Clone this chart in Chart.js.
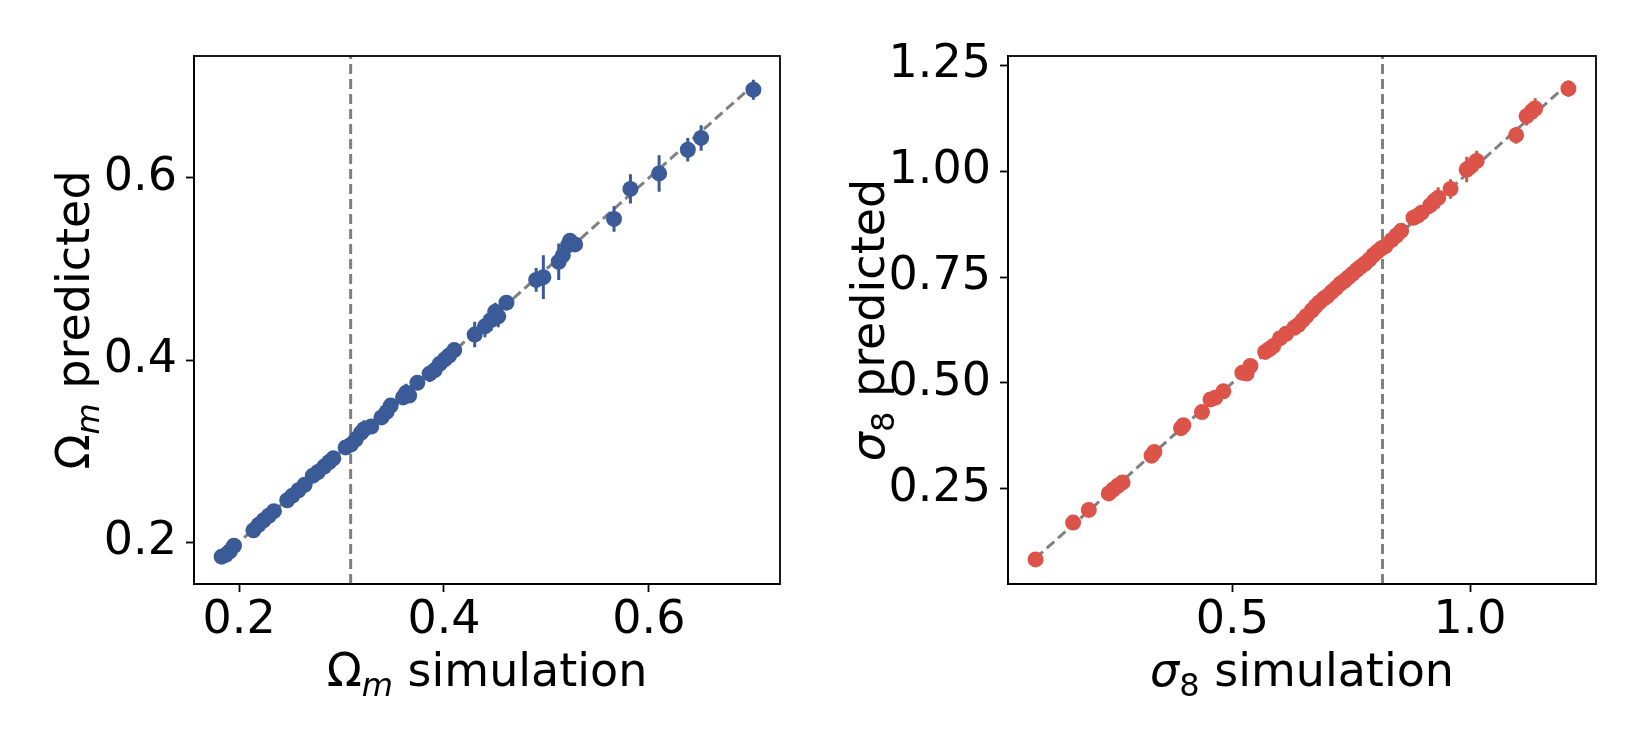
<!DOCTYPE html>
<html>
<head>
<meta charset="utf-8">
<script src="https://cdn.jsdelivr.net/npm/chart.js@4.4.1/dist/chart.umd.min.js"></script>
<style>
  body { margin: 0; background: #fff; }
  #wrap { position: relative; width: 1650px; height: 750px; background: #fff; }
  canvas { position: absolute; top: 0; }
</style>
</head>
<body>
<div id="wrap">
  <canvas id="omChart" width="825" height="750" style="left:0"></canvas>
  <canvas id="s8Chart" width="825" height="750" style="left:825px"></canvas>
</div>
<script>
// Omega_m panel: simulation value, predicted value, 1-sigma error
let omTrue = [0.183, 0.187, 0.191, 0.195, 0.214, 0.219, 0.224, 0.229, 0.234, 0.247,
              0.252, 0.258, 0.264, 0.272, 0.277, 0.283, 0.288, 0.292, 0.304, 0.309,
              0.314, 0.319, 0.322, 0.329, 0.339, 0.344, 0.348, 0.360, 0.363, 0.366,
              0.374, 0.386, 0.391, 0.396, 0.401, 0.405, 0.410, 0.430, 0.440, 0.446,
              0.450, 0.453, 0.461, 0.490, 0.497, 0.512, 0.516, 0.521, 0.523, 0.528,
              0.566, 0.582, 0.610, 0.638, 0.651, 0.702];
let omPred = [0.184, 0.186, 0.190, 0.196, 0.213, 0.219, 0.224, 0.229, 0.234, 0.246,
              0.251, 0.257, 0.263, 0.273, 0.277, 0.283, 0.288, 0.292, 0.304, 0.307,
              0.313, 0.320, 0.324, 0.327, 0.337, 0.343, 0.350, 0.359, 0.364, 0.361,
              0.375, 0.385, 0.389, 0.396, 0.401, 0.405, 0.411, 0.428, 0.437, 0.444,
              0.453, 0.448, 0.463, 0.488, 0.491, 0.508, 0.515, 0.526, 0.531, 0.527,
              0.555, 0.588, 0.605, 0.631, 0.644, 0.697];
let omErr  = [0.004, 0.004, 0.004, 0.005, 0.004, 0.004, 0.005, 0.004, 0.005, 0.005,
              0.004, 0.005, 0.005, 0.005, 0.004, 0.005, 0.005, 0.005, 0.005, 0.005,
              0.006, 0.008, 0.010, 0.006, 0.006, 0.007, 0.007, 0.008, 0.010, 0.008,
              0.008, 0.009, 0.008, 0.008, 0.009, 0.007, 0.007, 0.014, 0.012, 0.012,
              0.010, 0.012, 0.008, 0.013, 0.024, 0.020, 0.012, 0.010, 0.008, 0.008,
              0.014, 0.016, 0.020, 0.013, 0.014, 0.011];
let omFiducial = 0.3089;
let omTicks = [0.2, 0.4, 0.6];
let omTickLabels = ['0.2', '0.4', '0.6'];

// sigma_8 panel
let s8True = [0.086, 0.165, 0.198, 0.240, 0.249, 0.259, 0.269, 0.330, 0.336, 0.392,
              0.397, 0.436, 0.454, 0.464, 0.481, 0.521, 0.530, 0.538, 0.569, 0.578,
              0.586, 0.600, 0.613, 0.630, 0.639, 0.648, 0.656, 0.667, 0.675, 0.683,
              0.692, 0.700, 0.709, 0.718, 0.727, 0.736, 0.744, 0.753, 0.762, 0.771,
              0.779, 0.788, 0.797, 0.805, 0.814, 0.822, 0.835, 0.845, 0.855, 0.881,
              0.890, 0.898, 0.916, 0.925, 0.933, 0.959, 0.993, 1.000, 1.014, 1.097,
              1.119, 1.130, 1.137, 1.207];
let s8Pred = [0.083, 0.170, 0.200, 0.239, 0.248, 0.257, 0.265, 0.328, 0.337, 0.393,
              0.400, 0.431, 0.461, 0.465, 0.480, 0.524, 0.522, 0.540, 0.573, 0.580,
              0.587, 0.605, 0.616, 0.630, 0.637, 0.648, 0.658, 0.671, 0.681, 0.690,
              0.699, 0.705, 0.715, 0.724, 0.734, 0.741, 0.749, 0.758, 0.767, 0.775,
              0.782, 0.791, 0.802, 0.810, 0.818, 0.823, 0.837, 0.848, 0.859, 0.890,
              0.895, 0.902, 0.919, 0.930, 0.937, 0.958, 1.004, 1.010, 1.024, 1.085,
              1.130, 1.142, 1.148, 1.195];
let s8Err  = [0.010, 0.010, 0.010, 0.010, 0.010, 0.010, 0.010, 0.012, 0.012, 0.012,
              0.012, 0.012, 0.012, 0.012, 0.012, 0.014, 0.015, 0.014, 0.012, 0.012,
              0.012, 0.014, 0.012, 0.014, 0.016, 0.012, 0.014, 0.012, 0.014, 0.012,
              0.014, 0.012, 0.012, 0.014, 0.012, 0.012, 0.014, 0.012, 0.014, 0.012,
              0.014, 0.012, 0.016, 0.014, 0.014, 0.014, 0.014, 0.014, 0.016, 0.016,
              0.016, 0.016, 0.020, 0.020, 0.025, 0.023, 0.030, 0.022, 0.024, 0.020,
              0.022, 0.022, 0.024, 0.019];
let s8Fiducial = 0.8159;
let s8XTicks = [0.5, 1.0];
let s8XTickLabels = ['0.5', '1.0'];
let s8YTicks = [0.25, 0.50, 0.75, 1.00, 1.25];
let s8YTickLabels = ['0.25', '0.50', '0.75', '1.00', '1.25'];

const FONT = 'DejaVu Sans';
const FS = 46;
Chart.defaults.font.family = FONT;

// draws a label made of pieces (some italic / subscript) centred on (x, y)
function drawRich(ctx, parts, x, y, rotate) {
  ctx.save();
  ctx.translate(x, y);
  if (rotate) ctx.rotate(-Math.PI / 2);
  ctx.fillStyle = '#000';
  ctx.textBaseline = 'alphabetic';
  ctx.textAlign = 'left';
  let fontOf = p => (p.it ? 'italic ' : '') + (p.sub ? Math.round(FS * 0.7) : FS) + 'px "' + FONT + '"';
  let total = 0;
  parts.forEach(p => { ctx.font = fontOf(p); total += ctx.measureText(p.t).width; });
  let cx = -total / 2;
  parts.forEach(p => {
    ctx.font = fontOf(p);
    ctx.fillText(p.t, cx, p.sub ? 10 : 0);
    cx += ctx.measureText(p.t).width;
  });
  ctx.restore();
}

const framePlugin = {
  id: 'frame',
  afterDraw(chart, args, opts) {
    let a = chart.chartArea, ctx = chart.ctx;
    ctx.save();
    ctx.strokeStyle = '#000';
    ctx.lineWidth = 1.8;
    ctx.strokeRect(a.left, a.top, a.right - a.left, a.bottom - a.top);
    ctx.restore();
    let midX = (a.left + a.right) / 2, midY = (a.top + a.bottom) / 2;
    drawRich(ctx, opts.xTitle, midX, opts.xTitleY, false);
    drawRich(ctx, opts.yTitle, opts.yTitleX, midY, true);
  }
};

function errorSegments(xs, ys, es) {
  let out = [];
  xs.forEach((x, i) => {
    out.push({x: x, y: ys[i] - es[i]});
    out.push({x: x, y: ys[i] + es[i]});
    out.push({x: x, y: null});
  });
  return out;
}

function axis(min, max, ticks, labels, isY, fitSize) {
  return {
    type: 'linear',
    min: min,
    max: max,
    afterBuildTicks: s => { s.ticks = ticks.map(v => ({value: v})); },
    afterFit: s => { if (isY) s.width = fitSize; else s.height = fitSize; },
    grid: { drawOnChartArea: false, drawTicks: true, tickLength: 8, tickWidth: 1.8, tickColor: '#000' },
    border: { display: true, color: '#000', width: 1.8 },
    ticks: {
      color: '#000',
      font: { family: FONT, size: FS },
      padding: isY ? 9 : 1,
      autoSkip: false,
      maxRotation: 0,
      callback: (v, i) => labels[i]
    }
  };
}

function makePanel(id, xs, ys, es, fid, color, xr, yr, xTicks, xLabels, yTicks, yLabels, leftW, padRight, titles) {
  let lo = Math.min(...xs), hi = Math.max(...xs);
  new Chart(document.getElementById(id), {
    type: 'scatter',
    data: {
      datasets: [
        { data: xs.map((x, i) => ({x: x, y: ys[i]})), pointRadius: 8, pointHoverRadius: 8,
          backgroundColor: color, borderWidth: 0, order: 0 },
        { data: errorSegments(xs, ys, es), showLine: true, spanGaps: false, pointRadius: 0,
          borderColor: color, borderWidth: 3, order: 1 },
        { data: [{x: lo, y: lo}, {x: hi, y: hi}], showLine: true, pointRadius: 0,
          borderColor: '#808080', borderWidth: 3, borderDash: [10, 5], order: 2 },
        { data: [{x: fid, y: yr[0]}, {x: fid, y: yr[1]}], showLine: true, pointRadius: 0,
          borderColor: '#808080', borderWidth: 3, borderDash: [10, 5], order: 3 }
      ]
    },
    options: {
      responsive: false,
      animation: false,
      layout: { padding: { left: 0, top: 56, right: padRight, bottom: 0 } },
      plugins: { legend: { display: false }, tooltip: { enabled: false }, frame: titles },
      scales: {
        x: axis(xr[0], xr[1], xTicks, xLabels, false, 166),
        y: axis(yr[0], yr[1], yTicks, yLabels, true, leftW)
      }
    },
    plugins: [framePlugin]
  });
}

makePanel('omChart', omTrue, omPred, omErr, omFiducial, '#3a5a98',
  [0.156, 0.728], [0.154, 0.734], omTicks, omTickLabels, omTicks, omTickLabels, 194, 45,
  { xTitle: [{t: 'Ω'}, {t: 'm', it: true, sub: true}, {t: ' simulation'}], xTitleY: 686,
    yTitle: [{t: 'Ω'}, {t: 'm', it: true, sub: true}, {t: ' predicted'}], yTitleX: 89 });

makePanel('s8Chart', s8True, s8Pred, s8Err, s8Fiducial, '#dc5449',
  [0.028, 1.265], [0.025, 1.272], s8XTicks, s8XTickLabels, s8YTicks, s8YTickLabels, 183, 54,
  { xTitle: [{t: 'σ', it: true}, {t: '8', sub: true}, {t: ' simulation'}], xTitleY: 686,
    yTitle: [{t: 'σ', it: true}, {t: '8', sub: true}, {t: ' predicted'}], yTitleX: 59 });
</script>
</body>
</html>
